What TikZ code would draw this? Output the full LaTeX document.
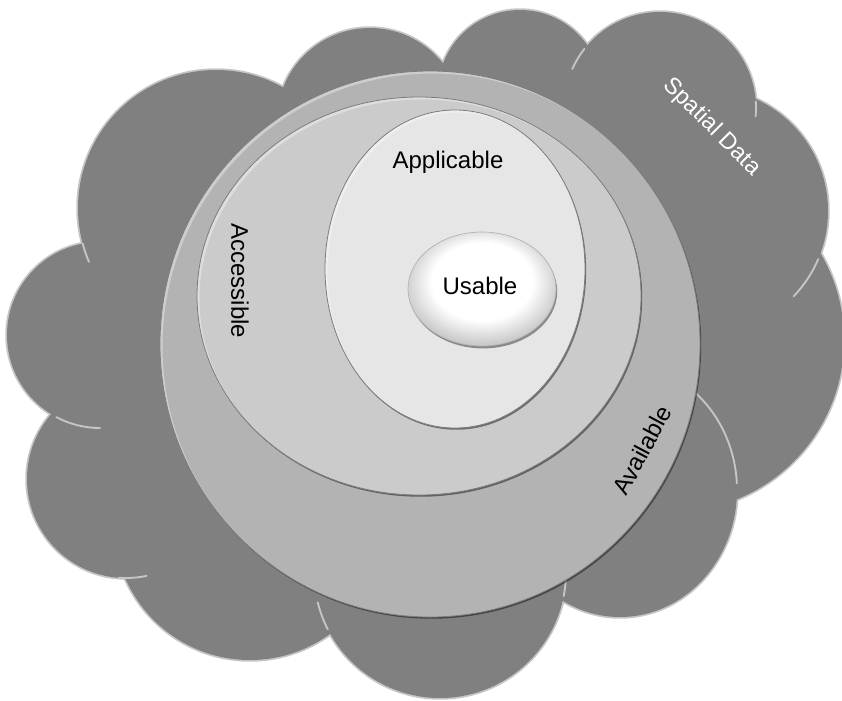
\documentclass[tikz,border=0pt]{standalone}
\usepackage{fontspec}
\setmainfont{Liberation Sans}
\usetikzlibrary{shadows}
\definecolor{cloudfill}{HTML}{808080}
\definecolor{cloudedge}{HTML}{C6C6C6}
\definecolor{availfill}{HTML}{B3B3B3}
\definecolor{accessfill}{HTML}{CBCBCB}
\definecolor{applyfill}{HTML}{E6E6E6}
\definecolor{ringedge}{HTML}{7C7C7C}
\pgfdeclareradialshading{usableshade}{\pgfpoint{0bp}{5bp}}{color(0bp)=(white); color(17bp)=(white); color(27bp)=(black!22); color(50bp)=(black!22)}
\newcommand{\ringshape}[5]{%
  \fill[#1, drop shadow={shadow xshift=0.9pt, shadow yshift=-1.3pt, opacity=0.45, fill=black}]
    (#2,#3) ellipse [x radius=#4, y radius=#5];
  \begin{scope}
    \clip (#2,#3) ellipse [x radius=#4, y radius=#5];
    \fill[white, opacity=0.35, even odd rule]
      (#2,#3) ellipse [x radius=#4, y radius=#5]
      (#2+2.5,#3+2.5) ellipse [x radius=#4, y radius=#5];
  \end{scope}
  \draw[ringedge, line width=0.6pt] (#2,#3) ellipse [x radius=#4, y radius=#5];
}
\begin{document}
\begin{tikzpicture}[x=0.75pt, y=-0.75pt,
  lbl/.style={text=black, font=\fontsize{18}{21}\selectfont, inner sep=0pt},
  notch/.style={cloudedge, line width=1.4pt, line cap=round}]
\fill[white] (0,0) rectangle (842,700);
\useasboundingbox (0,0) rectangle (842,700);

% cloud: outline pass, then fill pass
\foreach \cx/\cy/\rx/\ry in {216/208/138/138, 370/121/93/93, 520/92/82/82, 660/108/96/96,
  705/211/123/123, 672/340/172/172, 620/490/117/127, 440/572/126/126,
  250/524/136/136, 126/479/99/99, 100/335/93/93}
  \draw[cloudedge, line width=2.6pt] (\cx,\cy) ellipse [x radius=\rx, y radius=\ry];
\foreach \cx/\cy/\rx/\ry in {216/208/138/138, 370/121/93/93, 520/92/82/82, 660/108/96/96,
  705/211/123/123, 672/340/172/172, 620/490/117/127, 440/572/126/126,
  250/524/136/136, 126/479/99/99, 100/335/93/93}
  \fill[cloudfill] (\cx,\cy) ellipse [x radius=\rx, y radius=\ry];

% inner arcs of the cloud
\draw[notch] (216,208) ++(165:138) arc [start angle=165, end angle=157, radius=138];
\draw[notch] (660,108) ++(218:96) arc [start angle=218, end angle=204, radius=96];
\draw[notch] (660,108) ++(-4:96) arc [start angle=-4, end angle=5, radius=96];
\draw[notch] (705,211) ++(23:123) arc [start angle=23, end angle=44, radius=123];
\draw[notch] (620,490) ++({117*cos(-60)},{127*sin(-60)}) arc [start angle=-60, end angle=-3, x radius=117, y radius=127];
\draw[notch] (100,335) ++(118:93) arc [start angle=118, end angle=90, radius=93];
\draw[notch] (126,479) ++(94:99) arc [start angle=94, end angle=78, radius=99];
\draw[notch] (440,572) ++(153:126) arc [start angle=153, end angle=166, radius=126];
\draw[notch] (440,572) ++(11:126) arc [start angle=11, end angle=2, radius=126];

% nested sets
\ringshape{availfill}{430}{344}{270}{273}
\ringshape{accessfill}{419}{296}{222}{199}
\ringshape{applyfill}{455}{269}{130}{159}
\shade[shading=usableshade,
  drop shadow={shadow xshift=0.9pt, shadow yshift=-1.8pt, opacity=0.4, fill=black}]
  (482,289) ellipse [x radius=74, y radius=57];
\draw[black!30, line width=0.5pt] (482,289) ellipse [x radius=74, y radius=57];

% labels
\node[lbl, white, rotate=-45, font=\fontsize{17.5}{20}\selectfont] (spatial) at (712,127) {Spatial Data};
\node[lbl, anchor=base] (applicable) at (448,168) {Applicable};
\node[lbl, anchor=base] (usable) at (480,294) {Usable};
\node[lbl, rotate=-90] (accessible) at (240,281) {Accessible};
\node[lbl, rotate=62] (available) at (642,450) {Available};
\end{tikzpicture}
\end{document}
